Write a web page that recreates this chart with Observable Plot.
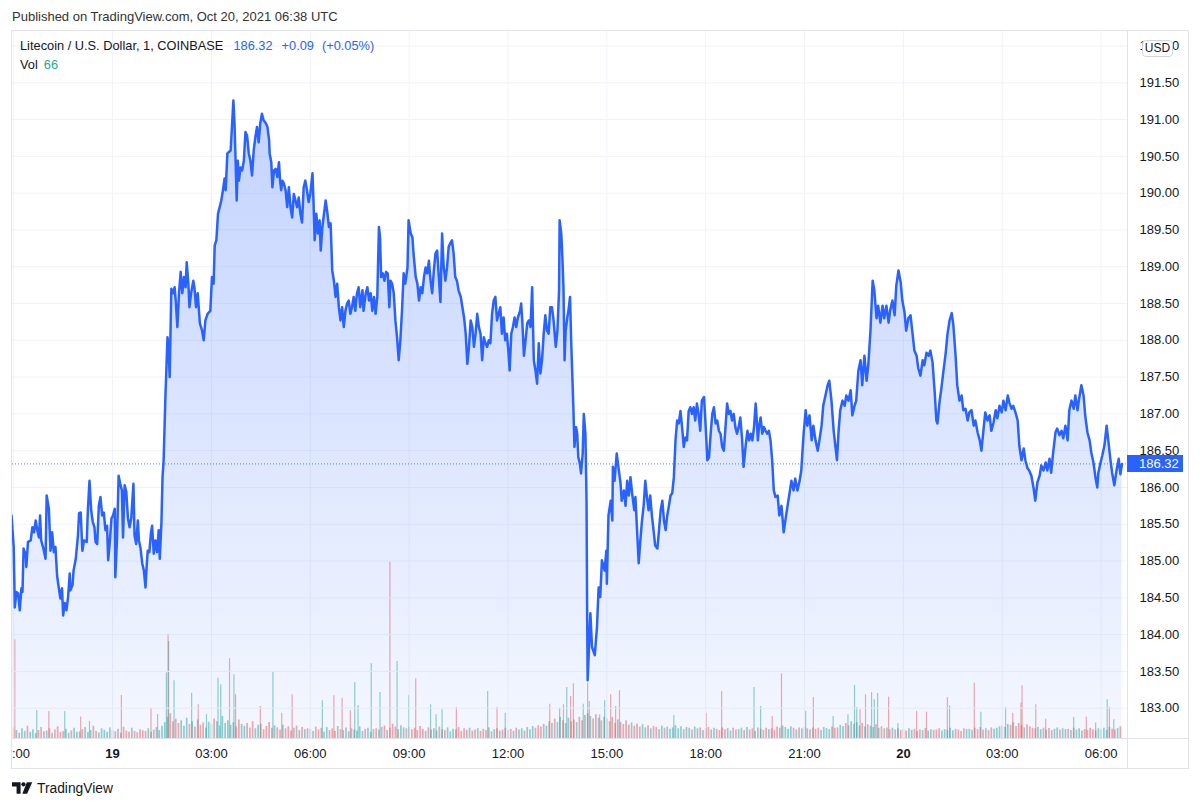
<!DOCTYPE html>
<html><head><meta charset="utf-8">
<script src="https://cdn.jsdelivr.net/npm/d3@7"></script>
<script src="https://cdn.jsdelivr.net/npm/@observablehq/plot@0.6"></script>
<style>
html,body{margin:0;padding:0;background:#fff}
body{width:1200px;height:807px;position:relative;overflow:hidden;font-family:"Liberation Sans",Arial,sans-serif;color:#131722}
.abs{position:absolute}
#pub{left:12px;top:9px;font-size:13px;line-height:16px;color:#333}
#frame{left:11px;top:30px;width:1178px;height:739px;box-sizing:border-box;border:1px solid #e0e3eb}
#vsep{left:1127px;top:31px;width:1px;height:737px;background:#e0e3eb}
#hsep{left:12px;top:738px;width:1176px;height:1px;background:#e0e3eb}
#legend{left:20px;top:38px;font-size:12.8px;line-height:16px;color:#131722;white-space:nowrap}
#legend .b{color:#2962FF}
#vol{left:20px;top:57px;font-size:12.8px;line-height:16px;color:#131722}
#vol .g{color:#22ab94;margin-left:6px}
#usd{left:1142px;top:40px;width:29px;height:15px;border:1px solid #d1d4dc;border-radius:4px;background:#fff;font-size:12px;line-height:15px;text-align:center;color:#131722}
#lastbox{left:1127px;width:56px;height:17px;background:#2962FF;color:#fff;font-size:13px;line-height:17px;padding-left:12px;box-sizing:border-box}
#logo{left:12px;top:780px;height:16px;display:flex;align-items:center}
#logo span{font-size:13.8px;color:#131722;margin-left:4px}
</style></head>
<body>
<div id="pub" class="abs">Published on TradingView.com, Oct 20, 2021 06:38 UTC</div>
<div id="volLayer" class="abs" style="left:12px;top:31px"></div>
<div id="priceLayer" class="abs" style="left:12px;top:31px"></div>
<div id="frame" class="abs"></div>
<div id="vsep" class="abs"></div>
<div id="hsep" class="abs"></div>
<div id="legend" class="abs"></div>
<div id="vol" class="abs"></div>
<div id="usd" class="abs">USD</div>
<div id="lastbox" class="abs"></div>
<div id="logo" class="abs"><svg width="21" height="12" viewBox="0 0 22 12"><path d="M0 0h9v12h-4.2v-7.6H0z" fill="#131722"/><circle cx="12" cy="2.2" r="2.2" fill="#131722"/><path d="M15.6 0h5.6l-5.4 12h-5z" fill="#131722"/></svg><span>TradingView</span></div>
<script>
// ---------- DATA ----------
const symbolName = "Litecoin / U.S. Dollar, 1, COINBASE";
const lastChange = "+0.09";
const lastChangePct = "(+0.05%)";
const lastVolume = 66;
// minutes since 2021-10-18 21:00 UTC
const priceMin = [-4,0,2,5,8,11,14,16,18,22,23,26,31,34,37,40,43,46,48,50,54,58,60,64,67,70,73,76,79,82,85,88,90,93,96,99,102,103,107,109,113,117,119,122,125,128,133,135,138,141,144,147,149,152,155,158,161,164,167,170,172,175,178,181,184,185,188,191,194,197,199,202,205,208,211,214,218,220,223,226,228,231,234,237,240,242,244,247,250,252,255,258,261,264,266,269,271,273,276,280,282,284,287,290,293,295,298,301,304,307,310,313,315,318,320,323,327,329,332,335,339,343,346,349,353,358,361,364,366,369,372,375,378,381,384,386,389,392,395,397,400,402,404,406,408,410,413,416,419,422,425,428,431,434,437,440,443,446,449,452,455,459,462,465,466,469,471,474,477,480,483,485,487,489,492,495,498,501,504,507,510,513,516,519,522,525,528,531,534,537,540,544,546,548,551,554,557,559,562,565,568,571,574,577,580,583,586,589,592,595,598,601,604,607,610,613,616,619,622,625,628,631,635,637,641,644,647,650,653,656,659,662,665,667,669,672,675,678,681,684,686,689,692,695,698,701,704,707,710,713,717,719,723,726,728,732,735,738,741,744,747,750,753,756,759,762,765,768,771,774,777,780,783,786,789,792,795,798,801,804,807,810,814,817,820,823,826,829,832,835,838,841,844,847,850,853,856,859,862,865,868,871,874,877,880,883,886,889,892,895,898,901,903,906,909,912,915,918,922,924,926,929,932,935,938,941,944,947,950,953,956,959,962,965,968,971,974,977,980,983,987,990,993,994,997,999,1001,1003,1005,1008,1010,1013,1015,1017,1019,1021,1024,1026,1028,1031,1033,1036,1038,1041,1043,1044,1045,1050,1053,1058,1062,1065,1068,1071,1076,1079,1080,1083,1087,1090,1091,1094,1098,1101,1105,1107,1111,1114,1117,1120,1123,1126,1130,1132,1135,1138,1141,1144,1147,1150,1153,1156,1159,1162,1165,1168,1172,1175,1178,1181,1184,1187,1190,1193,1196,1199,1202,1205,1208,1211,1214,1217,1220,1223,1226,1229,1232,1235,1238,1241,1244,1247,1250,1253,1257,1260,1263,1266,1269,1272,1275,1278,1281,1284,1287,1290,1293,1296,1299,1302,1305,1308,1311,1314,1317,1320,1323,1326,1329,1333,1336,1339,1342,1345,1348,1351,1353,1355,1357,1360,1363,1366,1369,1372,1375,1378,1381,1384,1387,1391,1394,1398,1402,1405,1409,1412,1416,1420,1423,1427,1431,1434,1438,1442,1445,1449,1453,1456,1460,1464,1467,1471,1474,1478,1482,1485,1489,1493,1496,1499,1502,1505,1509,1513,1516,1520,1524,1527,1531,1534,1538,1542,1545,1549,1553,1556,1560,1564,1567,1571,1574,1578,1582,1585,1589,1593,1596,1600,1604,1607,1611,1615,1618,1622,1625,1629,1633,1636,1640,1644,1647,1651,1655,1658,1662,1666,1669,1673,1677,1680,1682,1686,1689,1693,1697,1700,1704,1708,1711,1715,1718,1722,1726,1729,1733,1737,1740,1744,1748,1751,1755,1759,1762,1766,1769,1773,1777,1780,1784,1788,1791,1795,1799,1802,1806,1810,1813,1817,1820,1824,1828,1831,1835,1839,1842,1846,1849,1853,1857,1860,1864,1868,1871,1875,1879,1882,1886,1889,1893,1897,1900,1904,1908,1911,1915,1919,1922,1926,1930,1933,1937,1940,1944,1948,1951,1955,1959,1962,1966,1970,1973,1975,1979,1982,1986,1990,1993,1997,2000,2004,2008,2012,2015,2018];
const priceVal = [185.62,185.19,184.37,184.58,184.56,184.33,184.63,184.58,185.17,185.08,184.92,185.26,185.28,185.46,185.39,185.55,185.42,185.32,185.62,185.28,185.17,185.03,185.89,185.71,185.14,185.39,185.12,185.19,184.80,184.64,184.49,184.63,184.26,184.43,184.33,184.51,184.83,184.60,184.67,184.87,185.03,185.35,185.65,185.66,185.14,185.28,185.26,185.69,186.09,185.69,185.53,185.46,185.26,185.23,185.75,185.87,185.62,185.66,185.42,185.48,185.01,185.26,185.58,185.62,185.71,184.78,185.28,186.16,186.05,185.96,185.32,186.03,185.94,185.58,185.46,185.58,186.05,185.35,185.23,185.55,185.28,185.17,184.97,184.87,184.64,184.92,185.14,185.12,185.39,185.48,185.10,185.28,185.12,185.42,185.03,185.53,186.14,186.37,187.18,188.04,187.91,187.50,188.70,188.64,188.72,188.54,188.18,188.64,188.93,188.64,188.86,188.72,189.06,188.77,188.45,188.64,188.81,188.72,188.45,188.64,188.23,188.13,188.00,188.27,188.36,188.40,188.86,188.77,189.29,189.36,189.72,189.81,189.90,190.04,190.20,190.04,190.54,190.56,190.58,190.85,191.26,190.95,190.44,189.90,190.44,190.17,190.35,190.31,190.44,190.83,190.78,190.54,190.44,190.24,190.58,190.76,190.90,190.69,190.95,191.08,190.99,190.95,190.90,190.72,190.54,190.42,190.08,190.31,190.33,190.22,190.42,190.17,190.04,190.17,190.13,190.04,189.81,190.08,189.81,189.67,189.99,189.90,189.81,189.94,189.72,189.60,190.08,190.17,190.04,189.88,189.99,190.27,189.86,189.36,189.72,189.45,189.63,189.22,189.54,189.72,189.90,189.74,189.54,189.59,188.95,188.81,188.59,188.77,188.45,188.27,188.45,188.18,188.40,188.50,188.54,188.36,188.45,188.59,188.40,188.64,188.72,188.45,188.68,188.40,188.64,188.72,188.54,188.64,188.40,188.59,188.36,188.59,189.54,189.40,188.86,188.91,188.81,188.93,188.91,188.45,188.81,188.77,188.64,188.27,188.04,187.73,188.00,188.40,188.91,188.77,188.99,189.63,189.45,189.40,189.18,188.86,188.77,188.54,188.72,188.64,188.86,188.99,188.91,189.08,188.81,188.64,188.95,189.18,189.22,188.86,188.52,189.45,188.99,188.81,188.99,189.27,189.32,189.36,189.18,188.86,188.81,188.68,188.59,188.45,188.31,188.09,187.68,187.91,188.27,188.18,187.91,188.09,188.36,188.18,188.09,187.73,188.04,187.96,187.91,188.00,187.96,188.36,188.54,188.59,188.27,188.36,188.45,188.09,188.31,188.00,188.09,187.82,187.59,188.09,188.18,188.31,188.18,188.31,188.40,188.50,188.27,187.79,188.00,188.23,188.27,188.18,188.72,187.73,187.59,187.41,187.96,187.55,187.73,188.09,188.34,188.13,188.09,188.45,188.45,188.27,187.91,188.13,188.68,189.63,189.45,189.13,188.72,187.73,188.13,188.31,188.40,188.59,188.00,187.55,187.09,186.55,186.82,186.73,186.41,186.32,186.19,186.46,187.00,186.73,185.82,184.46,183.38,184.29,183.83,183.72,184.10,184.64,184.51,185.01,184.87,185.14,184.69,185.62,185.82,185.55,186.28,186.09,186.46,186.28,186.05,185.82,185.96,185.75,186.09,185.89,186.14,185.92,185.69,185.87,185.42,184.97,185.28,185.55,185.75,186.09,185.87,185.69,185.89,185.62,185.42,185.21,185.17,185.42,185.69,185.82,185.55,185.42,185.62,185.75,185.89,185.92,186.14,186.64,186.91,186.87,187.04,186.82,186.55,186.68,186.64,187.04,187.09,187.00,187.09,186.91,187.14,187.00,186.77,187.18,187.23,186.82,186.37,186.41,186.73,187.00,187.09,186.87,186.91,186.77,186.73,186.55,186.50,186.82,187.14,187.00,187.04,186.91,187.00,186.82,186.73,186.82,186.95,186.68,186.28,186.59,186.77,186.64,186.73,186.64,186.82,187.14,186.91,186.64,186.82,186.95,186.73,186.82,186.77,186.73,186.77,186.64,186.37,185.96,185.87,185.89,185.62,185.75,185.39,185.55,185.75,185.89,186.09,185.96,186.12,185.96,186.09,186.23,186.70,187.05,186.84,186.98,186.64,186.84,186.64,186.50,186.64,186.84,187.11,187.25,187.39,187.45,187.18,186.77,186.57,186.37,186.77,187.05,187.18,187.11,187.25,187.18,187.32,186.98,187.11,187.18,187.59,187.73,187.39,187.79,187.45,187.66,188.13,188.81,188.68,188.30,188.47,188.24,188.47,188.30,188.47,188.24,188.41,188.54,188.34,188.74,188.95,188.79,188.54,188.38,188.13,188.30,188.34,188.13,187.86,187.79,187.62,187.52,187.73,187.66,187.83,187.79,187.86,187.70,187.29,186.91,186.87,187.18,187.34,187.59,187.83,188.07,188.27,188.37,188.20,187.79,187.39,187.18,187.25,187.05,187.07,186.91,187.02,187.05,186.84,186.91,186.75,186.64,186.50,186.80,187.02,186.91,186.98,186.77,186.88,187.05,186.94,187.11,187.02,187.18,187.05,187.25,187.15,187.07,187.11,187.02,186.91,186.57,186.37,186.53,186.37,186.26,186.23,186.16,185.99,185.82,186.07,186.16,186.30,186.23,186.34,186.23,186.39,186.20,186.50,186.75,186.80,186.71,186.77,186.67,186.84,186.64,187.05,187.18,187.07,187.25,187.05,187.21,187.39,187.25,186.98,186.75,186.64,186.48,186.34,186.12,186.00,186.20,186.34,186.43,186.57,186.84,186.64,186.37,186.20,186.03,186.23,186.39,186.18,186.32];

// volume: notable spikes (minutes since 21:00 UTC, volume, 1 = up bar)
const volSpikeMin = [2,42,64,93,122,138,196,250,262,278,281,282,292,324,336,351,372,377,393,401,404,449,472,488,507,562,583,598,613,621,627,651,667,685,698,719,732,759,769,780,806,863,880,895,976,994,1001,1007,1014,1019,1037,1045,1048,1067,1076,1087,1096,1103,1202,1261,1289,1348,1360,1381,1398,1442,1456,1492,1519,1531,1535,1541,1551,1562,1567,1573,1593,1610,1644,1662,1700,1704,1749,1761,1806,1819,1834,1836,1861,1879,1930,1953,1970,1991,1995,2003];
const volSpikeVal = [559,158,153,153,121,96,243,171,136,370,590,549,327,256,191,136,341,304,451,361,248,181,379,143,247,213,242,228,157,317,187,423,260,998,436,243,338,191,134,162,175,266,175,143,194,171,191,289,238,310,194,313,209,134,213,247,181,270,130,143,266,289,181,125,366,153,232,125,134,300,175,162,247,260,219,255,234,85,153,149,232,185,313,149,175,143,200,298,191,109,119,121,87,219,175,106];
const volSpikeUp = [0,1,0,1,0,1,0,0,0,1,0,1,1,1,0,1,1,1,0,1,0,0,1,0,0,1,0,0,0,1,1,1,1,0,1,1,0,1,1,1,0,1,0,1,0,1,0,1,0,0,1,0,1,0,1,0,0,0,1,0,0,1,1,0,0,1,0,1,1,1,1,0,0,1,1,1,0,1,0,0,0,1,0,1,1,0,0,0,0,0,1,0,1,1,0,1];
// volume: background bars, every 5 minutes from 21:00 UTC
const volBaseStart = 0, volBaseStep = 5;
const volBase = [
60,45,30,55,40,70,35,50,28,45,62,38,
42,55,30,48,66,35,40,52,30,44,58,36,
38,50,62,34,45,70,40,32,55,47,36,60,
45,38,52,30,64,42,36,58,40,33,50,44,
40,55,36,48,62,45,70,90,120,140,95,110,
85,100,70,115,80,95,65,105,75,88,60,92,
80,110,95,70,125,85,100,75,90,65,105,80,
70,85,60,95,55,75,80,50,68,90,58,72,
60,48,75,55,66,42,58,70,45,62,50,55,
52,40,65,48,58,36,62,45,55,40,68,50,
45,60,38,55,48,42,66,40,52,58,35,50,
55,48,62,70,45,58,80,65,50,72,60,55,
62,50,58,45,68,52,40,60,48,55,42,65,
50,45,60,38,52,48,62,40,55,46,58,42,
48,56,40,52,45,60,38,50,55,42,48,58,
45,52,40,58,48,55,42,62,50,68,58,72,
65,80,70,95,85,110,90,120,100,85,115,95,
105,90,120,100,130,140,125,110,135,115,100,120,
110,95,120,85,105,90,80,100,75,88,70,82,
65,78,60,72,55,68,62,50,70,58,64,52,
60,72,55,66,50,62,58,48,65,55,60,45,
55,62,48,58,52,45,60,50,56,42,58,48,
50,58,45,62,48,55,40,60,52,46,58,50,
55,48,65,58,70,62,52,66,58,48,60,55,
62,55,48,60,52,58,45,62,56,50,65,58,
60,75,68,85,72,95,80,90,70,85,65,78,
70,62,78,58,66,55,60,50,58,48,55,45,
50,42,55,46,52,40,48,45,56,42,50,46,
48,55,42,50,46,58,44,52,48,40,55,50,
52,46,58,50,62,48,55,45,60,52,58,66,
70,62,80,75,90,68,85,72,60,78,66,58,
55,62,50,58,48,56,45,52,60,48,55,50,
52,45,58,48,55,42,50,46,58,50,44,55,
50,58,45,62,52,48,56,66];

const yTicks = [183,183.5,184,184.5,185,185.5,186,186.5,187,187.5,188,188.5,189,189.5,190,190.5,191,191.5,192];
const xTickMin = [0,180,360,540,720,900,1080,1260,1440,1620,1800,1980];
const xTickLabels = ["21:00","19","03:00","06:00","09:00","12:00","15:00","18:00","21:00","20","03:00","06:00"];

// ---------- BUILD ----------
const START = Date.UTC(2021, 9, 18, 21, 0);
const toDate = m => new Date(START + m * 60000);
const prices = priceMin.map((m, i) => ({t: toDate(m), v: priceVal[i]}));
const lastPrice = priceVal[priceVal.length - 1];
const dirUp = m => { let i = d3.bisectRight(priceMin, m) - 1; if (i < 1) i = 1; return priceVal[i] >= priceVal[i - 1]; };
const volBars = volBase.map((v, k) => { const m = volBaseStart + k * volBaseStep; return {t: toDate(m), v, up: dirUp(m)}; });
const volSpikes = volSpikeMin.map((m, i) => ({t: toDate(m), v: volSpikeVal[i], up: volSpikeUp[i] === 1}));
const xTicks = xTickMin.map(toDate);
const labelMap = new Map(xTicks.map((d, i) => [+d, xTickLabels[i]]));

const W = 1176, H = 737;
const M = {marginLeft: 0, marginRight: 61, marginTop: 0, marginBottom: 30};
const xDomain = [toDate(-2.2), toDate(2028)];
const yDomain = [182.588, 192.197];
const UP = "#26a69a", DOWN = "#ef5350";

const volChart = Plot.plot({
  width: W, height: H, ...M,
  x: {type: "utc", domain: xDomain, axis: null},
  y: {domain: [0, 4000], axis: null},
  style: {background: "#fff", overflow: "hidden"},
  marks: [
    Plot.ruleX(volBars.filter(d => d.up), {x: "t", y1: 0, y2: "v", stroke: UP, strokeOpacity: 0.5, strokeWidth: 1.7}),
    Plot.ruleX(volBars.filter(d => !d.up), {x: "t", y1: 0, y2: "v", stroke: DOWN, strokeOpacity: 0.5, strokeWidth: 1.7}),
    Plot.ruleX(volSpikes.filter(d => d.up), {x: "t", y1: 0, y2: "v", stroke: UP, strokeOpacity: 0.5, strokeWidth: 1.2}),
    Plot.ruleX(volSpikes.filter(d => !d.up), {x: "t", y1: 0, y2: "v", stroke: DOWN, strokeOpacity: 0.5, strokeWidth: 1.2})
  ]
});
document.getElementById("volLayer").appendChild(volChart);

const priceChart = Plot.plot({
  width: W, height: H, ...M,
  x: {type: "utc", domain: xDomain, ticks: xTicks, tickFormat: d => labelMap.get(+d) ?? "", tickSize: 0, tickPadding: 10, label: null},
  y: {domain: yDomain, axis: "right", ticks: yTicks, tickFormat: d => d.toFixed(2), tickSize: 0, tickPadding: 12, label: null},
  style: {background: "transparent", overflow: "hidden", fontFamily: "'Liberation Sans', Arial, sans-serif", fontSize: "13px", color: "#131722"},
  marks: [
    Plot.ruleY(yTicks, {stroke: "#f0f3fa", strokeWidth: 1}),
    Plot.ruleX(xTicks, {stroke: "#f0f3fa", strokeWidth: 1}),
    Plot.areaY(prices, {x: "t", y1: yDomain[0], y2: "v", fill: "url(#areaGrad)"}),
    Plot.ruleY([lastPrice], {stroke: "#2962FF", strokeWidth: 1, strokeDasharray: "1,2", strokeOpacity: 0.8}),
    Plot.lineY(prices, {x: "t", y: "v", stroke: "#2962FF", strokeWidth: 2.5, strokeLinejoin: "round"})
  ]
});
const ys = priceChart.scale("y");
const gTop = ys.apply(d3.max(priceVal)), gBot = ys.apply(yDomain[0]);
const defs = document.createElementNS("http://www.w3.org/2000/svg", "defs");
defs.innerHTML = `<linearGradient id="areaGrad" gradientUnits="userSpaceOnUse" x1="0" y1="${gTop}" x2="0" y2="${gBot}"><stop offset="0" stop-color="#2962FF" stop-opacity="0.28"/><stop offset="1" stop-color="#2962FF" stop-opacity="0.05"/></linearGradient>`;
priceChart.insertBefore(defs, priceChart.firstChild);
priceChart.querySelectorAll("text").forEach(t => {
  if (t.textContent === "19" || t.textContent === "20") t.style.fontWeight = "700";
});
document.getElementById("priceLayer").appendChild(priceChart);

// legend & last price tag
document.getElementById("legend").innerHTML =
  `${symbolName}<span class="b" style="margin-left:10px">${lastPrice.toFixed(2)}</span><span class="b" style="margin-left:9px">${lastChange}</span><span class="b" style="margin-left:8px">${lastChangePct}</span>`;
document.getElementById("vol").innerHTML = `Vol<span class="g">${lastVolume}</span>`;
const lb = document.getElementById("lastbox");
lb.textContent = lastPrice.toFixed(2);
lb.style.top = (31 + ys.apply(lastPrice) - 8.5) + "px";
</script>
</body></html>
